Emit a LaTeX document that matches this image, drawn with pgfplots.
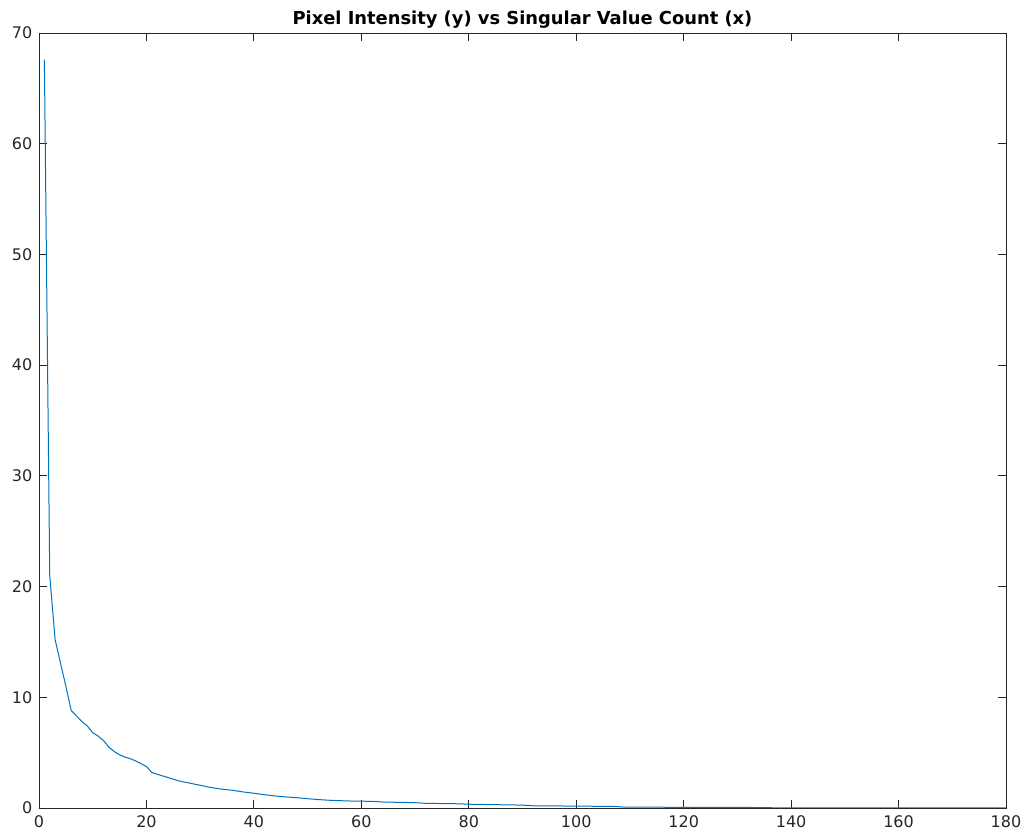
\documentclass[border=0pt]{standalone}
\usepackage{pgfplots}
\pgfplotsset{compat=1.18}
\usepackage{fontspec}
\setmainfont{DejaVu Sans}
\definecolor{mlblue}{rgb}{0,0.447,0.741}
\definecolor{mlgray}{rgb}{0.15,0.15,0.15}
\begin{document}
\begin{tikzpicture}
\path[use as bounding box] (-29.25pt,-21.75pt) rectangle (740.25pt,606pt);
\begin{axis}[
  at={(0,0)}, anchor=south west,
  scale only axis,
  width=725.25pt, height=581.25pt,
  xmin=0, xmax=180, ymin=0, ymax=70,
  xtick distance=20, ytick distance=10,
  tick align=inside,
  major tick length=6pt,
  axis line style={mlgray, line width=0.6pt},
  every tick/.style={mlgray, line width=0.6pt},
  tick label style={font=\fontsize{12}{14}\selectfont, text=mlgray},
  /pgf/number format/assume math mode=true,
  xticklabel style={yshift=-2pt},
  yticklabel style={xshift=-1.5pt},
  title={\bfseries Pixel Intensity (y) vs Singular Value Count (x)},
  title style={font=\fontsize{13.4}{15}\selectfont, yshift=-6pt},
]
\addplot[mlblue, line width=0.75pt] coordinates {
(1,67.6) (2,21.0) (3,15.2) (4,13.1) (5,11.0) (6,8.8) (7,8.3) (8,7.8)
(9,7.4) (10,6.8) (11,6.5) (12,6.1) (13,5.5) (14,5.1) (15,4.8) (16,4.6)
(17,4.45) (18,4.25) (19,4.0) (20,3.75) (21,3.2) (22,3.05) (23,2.9)
(24,2.75) (25,2.6) (26,2.45) (27,2.35) (28,2.25) (29,2.15) (30,2.05)
(32,1.85) (34,1.7) (36,1.6) (38,1.45) (40,1.33) (42,1.2) (44,1.08)
(46,1.0) (48,0.93) (50,0.84) (52,0.76) (54,0.7) (56,0.66) (58,0.63)
(62,0.6) (64,0.54) (70,0.48) (72,0.42) (78,0.38) (80,0.34) (90,0.26)
(92,0.2) (100,0.17) (107,0.14) (109,0.08) (120,0.06) (136,0.04)
(137,0.0) (180,0.0)
};
\end{axis}
\end{tikzpicture}
\end{document}
